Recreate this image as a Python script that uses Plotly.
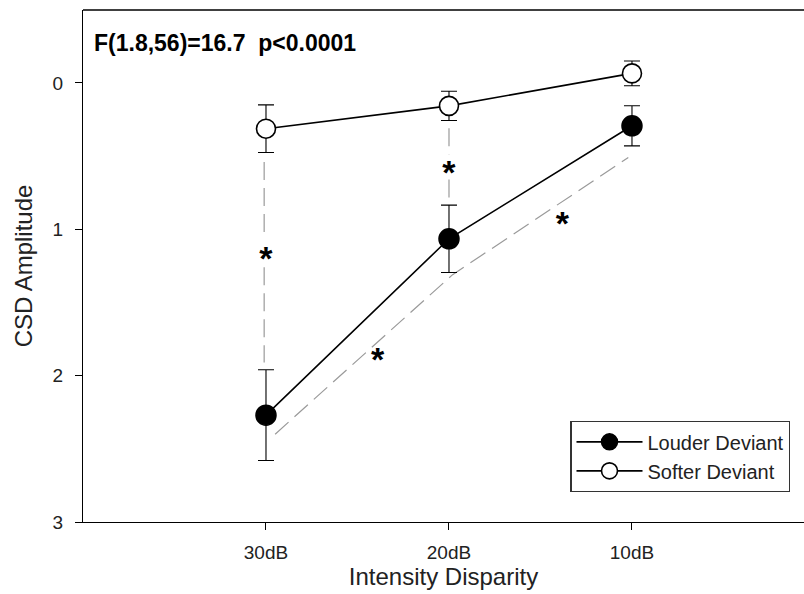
import plotly.graph_objects as go

# Intensity disparity conditions (x positions 1..3)
conditions = ["30dB", "20dB", "10dB"]
cond_pos = [1, 2, 3]

# Mean CSD amplitude and standard error per condition
louder_mean = [2.27, 1.065, 0.293]
louder_err = [0.31, 0.23, 0.137]
softer_mean = [0.313, 0.157, -0.065]
softer_err = [0.163, 0.10, 0.085]

# Dashed comparison brackets (significance guides)
guide_30_x = [0.99, 0.99, None, 0.99, 0.99]
guide_30_y = [0.54, 1.07, None, 1.26, 1.91]
guide_20_x = [2.0, 2.0, None, 2.0, 2.0]
guide_20_y = [0.31, 0.49, None, 0.66, 0.80]
guide_diag_x = [1.05, 2.02, 2.98]
guide_diag_y = [2.40, 1.31, 0.51]

# Significance markers
star_x = [1.0, 2.0, 1.61, 2.62]
star_y = [1.22, 0.63, 1.91, 0.98]

stats_text = "<b>F(1.8,56)=16.7&nbsp;&nbsp;p&lt;0.0001</b>"

FONT = "Liberation Sans, Arial, sans-serif"
GUIDE = dict(color="#9a9a9a", width=1.2, dash="18px,8px")

fig = go.Figure()

for gx, gy in [(guide_30_x, guide_30_y), (guide_20_x, guide_20_y), (guide_diag_x, guide_diag_y)]:
    fig.add_trace(go.Scatter(x=gx, y=gy, mode="lines", line=GUIDE,
                             showlegend=False, hoverinfo="skip"))

fig.add_trace(go.Scatter(
    x=cond_pos, y=louder_mean, name="Louder Deviant", mode="lines+markers",
    line=dict(color="black", width=1.6),
    marker=dict(size=20, color="black", line=dict(color="black", width=1.5)),
    error_y=dict(type="data", array=louder_err, visible=True,
                 color="black", thickness=1.1, width=8),
))
fig.add_trace(go.Scatter(
    x=cond_pos, y=softer_mean, name="Softer Deviant", mode="lines+markers",
    line=dict(color="black", width=1.6),
    marker=dict(size=19, color="white", line=dict(color="black", width=1.6)),
    error_y=dict(type="data", array=softer_err, visible=True,
                 color="black", thickness=1.1, width=8),
))

fig.add_trace(go.Scatter(
    x=star_x, y=star_y, mode="text", text=["<b>*</b>"] * len(star_x),
    textposition="middle center",
    textfont=dict(family=FONT, size=34, color="black"),
    showlegend=False, hoverinfo="skip",
))

fig.add_annotation(
    text=stats_text, xref="paper", yref="paper", x=0.013, y=0.936,
    xanchor="left", yanchor="middle", showarrow=False,
    font=dict(family=FONT, size=23, color="black"),
)

# top frame line (the right side is open)
fig.add_shape(type="line", xref="paper", yref="paper", x0=0, x1=1, y0=1, y1=1,
              line=dict(color="black", width=1.3))

fig.update_layout(
    width=804, height=594,
    margin=dict(l=83, r=0, t=10, b=72),
    paper_bgcolor="white", plot_bgcolor="white",
    font=dict(family=FONT, color="black"),
    showlegend=True,
    legend=dict(
        x=0.981, y=0.197, xanchor="right", yanchor="top",
        bordercolor="#333333", borderwidth=1.2, bgcolor="white",
        font=dict(family=FONT, size=20, color="#222222"),
        itemwidth=66, tracegroupgap=0,
    ),
    xaxis=dict(
        range=[0, 3.94], tickmode="array", tickvals=cond_pos, ticktext=conditions,
        showgrid=False, zeroline=False, showline=True, linecolor="black", linewidth=1.3,
        ticks="outside", ticklen=7, tickwidth=1.2, tickcolor="black",
        tickfont=dict(family=FONT, size=19, color="#222222"), ticklabelstandoff=6,
        title=dict(text="Intensity Disparity", font=dict(family=FONT, size=24, color="#222222"),
                   standoff=1),
    ),
    yaxis=dict(
        range=[3, -0.498], tickmode="array", tickvals=[0, 1, 2, 3],
        showgrid=False, zeroline=False, showline=True, linecolor="black", linewidth=1.3,
        ticks="outside", ticklen=7, tickwidth=1.2, tickcolor="black",
        tickfont=dict(family=FONT, size=19, color="#222222"), ticklabelstandoff=8,
        title=dict(text="CSD Amplitude", font=dict(family=FONT, size=24, color="#222222"),
                   standoff=13),
    ),
)

fig.write_html("out.html")
